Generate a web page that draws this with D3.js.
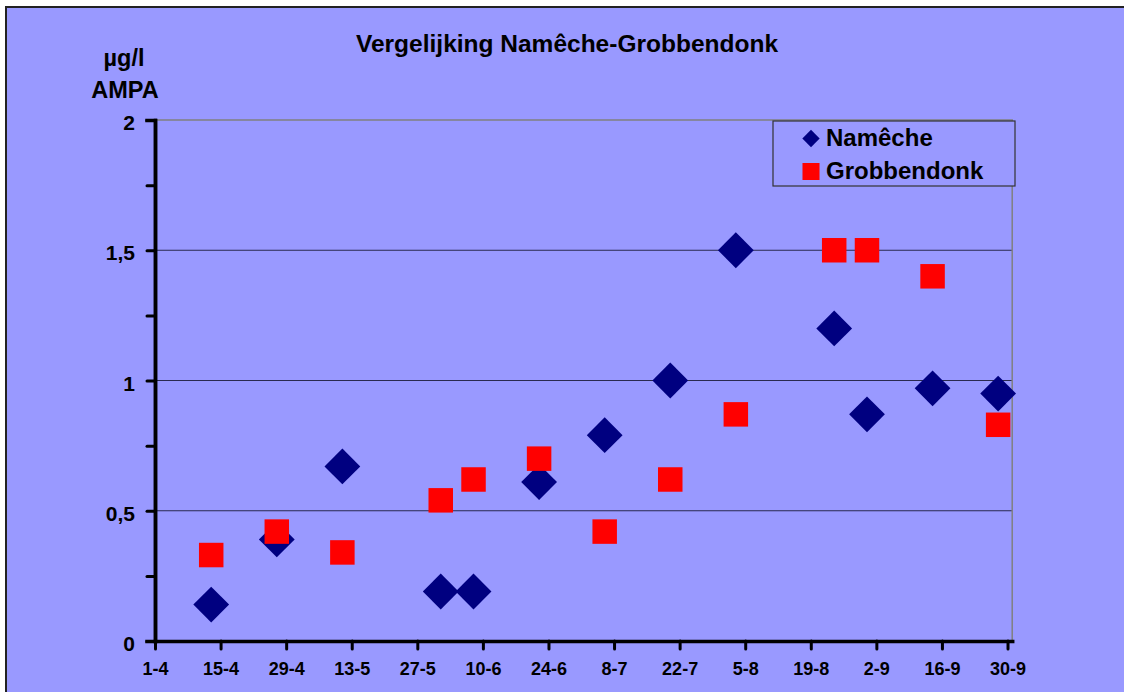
<!DOCTYPE html>
<html>
  <head>
    <meta charset="utf-8" />
    <title>Vergelijking Namêche-Grobbendonk</title>
    <script src="https://d3js.org/d3.v7.min.js"></script>
    <style>
      body { margin: 0; background: #fff; }
      text { font-family: "Liberation Sans", Arial, sans-serif; font-weight: bold; fill: #000; }
    </style>
  </head>
  <body>
    <svg width="1124" height="692"></svg>

    <script>
      // sample dates (day-month), same dates for both stations
      const sampleDates = ["13-4", "27-4", "11-5", "1-6", "8-6", "22-6", "6-7", "20-7", "3-8", "24-8", "31-8", "14-9", "28-9"];
      const nameche = [0.14, 0.39, 0.67, 0.19, 0.19, 0.61, 0.79, 1.0, 1.5, 1.2, 0.87, 0.97, 0.95];
      const grobbendonk = [0.33, 0.42, 0.34, 0.54, 0.62, 0.70, 0.42, 0.62, 0.87, 1.5, 1.5, 1.4, 0.83];
      const tickDates = ["1-4", "15-4", "29-4", "13-5", "27-5", "10-6", "24-6", "8-7", "22-7", "5-8", "19-8", "2-9", "16-9", "30-9"];
      const yTicks = [0, 0.5, 1, 1.5, 2];
      const yMinorTicks = [0.25, 0.75, 1.25, 1.75];

      const parse = s => d3.timeParse("%d-%m-%Y")(s + "-2003");

      const svg = d3.select("svg");
      const bg = "#9999ff";

      // chart area background + outer border
      svg.append("rect")
        .attr("x", 6).attr("y", 7)
        .attr("width", 1140).attr("height", 700)
        .attr("fill", bg)
        .attr("stroke", "#222")
        .attr("stroke-width", 2);

      const x = d3.scaleTime()
        .domain([parse("1-4"), parse("1-10")])
        .range([155, 1012.2]);
      const y = d3.scaleLinear().domain([0, 2]).range([641, 120]);

      const nl = d3.formatLocale({ decimal: ",", thousands: ".", grouping: [3], currency: ["€", ""] });
      const fmt = nl.format("~g");

      // gridlines
      svg.append("g")
        .selectAll("line")
        .data(yTicks.filter(d => d > 0 && d < 2))
        .join("line")
        .attr("x1", x.range()[0]).attr("x2", x.range()[1])
        .attr("y1", d => y(d)).attr("y2", d => y(d))
        .attr("stroke", "#2a2a50")
        .attr("stroke-width", 1);

      // plot area frame (top and right, grey)
      svg.append("path")
        .attr("d", `M${x.range()[0]},${y(2)}H${x.range()[1]}V${y(0)}`)
        .attr("fill", "none")
        .attr("stroke", "#808080")
        .attr("stroke-width", 1.5);

      // y axis
      const yMinor = svg.append("g")
        .attr("transform", `translate(${x.range()[0]},0)`)
        .call(d3.axisLeft(y).tickValues(yMinorTicks).tickSize(8).tickFormat(""));
      const yAxis = svg.append("g")
        .attr("transform", `translate(${x.range()[0]},0)`)
        .call(d3.axisLeft(y).tickValues(yTicks).tickSize(8).tickSizeOuter(0).tickPadding(12).tickFormat(fmt));
      yAxis.selectAll("text").attr("dy", "0.46em").style("font-size", "21px");

      // x axis
      const xAxis = svg.append("g")
        .attr("transform", `translate(0,${y(0)})`)
        .call(d3.axisBottom(x).tickValues(tickDates.map(parse)).tickSize(8).tickSizeOuter(0).tickPadding(13)
          .tickFormat(d3.timeFormat("%-d-%-m")));
      xAxis.selectAll("text").style("font-size", "18px");

      [yMinor, yAxis, xAxis].forEach(g => {
        g.selectAll(".domain").attr("stroke", "#000").attr("stroke-width", 3.5);
        g.selectAll(".tick line").attr("stroke", "#000").attr("stroke-width", 3).attr("stroke-linecap", "round");
        g.selectAll("text").attr("fill", "#000").style("font-family", null);
      });
      svg.selectAll(".domain").attr("stroke-linecap", "square");

      // markers
      const diamond = d3.symbol(d3.symbolSquare, 640)();
      const square = d3.symbol(d3.symbolSquare, 600)();

      svg.append("g")
        .selectAll("path")
        .data(sampleDates.map((d, i) => ({ date: parse(d), v: nameche[i] })))
        .join("path")
        .attr("d", diamond)
        .attr("transform", d => `translate(${x(d.date)},${y(d.v)}) rotate(45)`)
        .attr("fill", "#000080");

      svg.append("g")
        .selectAll("path")
        .data(sampleDates.map((d, i) => ({ date: parse(d), v: grobbendonk[i] })))
        .join("path")
        .attr("d", square)
        .attr("transform", d => `translate(${x(d.date)},${y(d.v)})`)
        .attr("fill", "#ff0000");

      // legend
      const legend = svg.append("g").attr("transform", "translate(773,121)");
      legend.append("rect")
        .attr("width", 242).attr("height", 65)
        .attr("fill", bg)
        .attr("stroke", "#333")
        .attr("stroke-width", 1.2);
      legend.append("path")
        .attr("d", d3.symbol(d3.symbolSquare, 150)())
        .attr("transform", "translate(38,17.5) rotate(45)")
        .attr("fill", "#000080");
      legend.append("path")
        .attr("d", d3.symbol(d3.symbolSquare, 290)())
        .attr("transform", "translate(38,50.5)")
        .attr("fill", "#ff0000");
      legend.append("text").attr("x", 53).attr("y", 25).style("font-size", "24px").text("Namêche");
      legend.append("text").attr("x", 53).attr("y", 58).style("font-size", "24px").text("Grobbendonk");

      // titles
      svg.append("text")
        .attr("x", 567).attr("y", 52)
        .attr("text-anchor", "middle")
        .style("font-size", "24.5px")
        .text("Vergelijking Namêche-Grobbendonk");
      svg.append("text")
        .attr("x", 124).attr("y", 66)
        .attr("text-anchor", "middle")
        .style("font-size", "23.5px")
        .text("µg/l");
      svg.append("text")
        .attr("x", 125).attr("y", 97.5)
        .attr("text-anchor", "middle")
        .style("font-size", "23.5px")
        .text("AMPA");
    </script>
  </body>
</html>
